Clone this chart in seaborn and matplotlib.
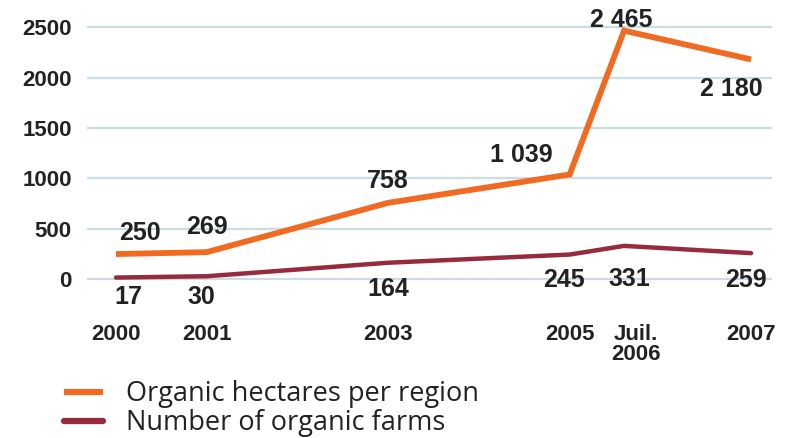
import numpy as np
import pandas as pd
import matplotlib
matplotlib.use('Agg')
import matplotlib.pyplot as plt
import matplotlib.transforms as mtransforms
import seaborn as sns

# periods on the x axis (Juil. 2006 sits where the source chart puts it)
aPeriod_label = ['2000', '2001', '2003', '2005', 'Juil.\n2006', '2007']
aPeriod_pos = [2000, 2001, 2003, 2005, 2005.6, 2007]

aHectares = [250, 269, 758, 1039, 2465, 2180]
aHectares_text = ['250', '269', '758', '1 039', '2 465', '2 180']
aFarms = [17, 30, 164, 245, 331, 259]
aFarms_text = ['17', '30', '164', '245', '331', '259']

sLabel_hectares = 'Organic hectares per region'
sLabel_farms = 'Number of organic farms'

aYtick = [0, 500, 1000, 1500, 2000, 2500]

# label offsets (points) relative to each point
aOffset_hectares = [(17, 15), (0, 18), (0, 16), (-35, 14), (-2, 8), (-14, -21)]
aOffset_farms = [(9, -14), (-4, -15), (0, -19), (-4, -18), (4, -24), (-4, -19)]

col_orange = '#f06a22'
col_maroon = '#972a3c'

sns.set_style('white')
plt.rcParams['font.family'] = ['Liberation Sans', 'DejaVu Sans']

df = pd.DataFrame({
    'pos': aPeriod_pos * 2,
    'value': aHectares + aFarms,
    'series': [sLabel_hectares] * len(aHectares) + [sLabel_farms] * len(aFarms),
})

fig = plt.figure(figsize=(7.95, 4.38), dpi=100)
ax = fig.add_axes([0.1094, 0.2756, 0.8616, 0.7085])

sns.lineplot(data=df[df['series'] == sLabel_farms], x='pos', y='value',
             color=col_maroon, linewidth=3.2, ax=ax, label=sLabel_farms,
             solid_joinstyle='round', solid_capstyle='round', zorder=3)
sns.lineplot(data=df[df['series'] == sLabel_hectares], x='pos', y='value',
             color=col_orange, linewidth=4.2, ax=ax, label=sLabel_hectares,
             solid_joinstyle='miter', solid_capstyle='butt', zorder=4)

ax.set_xlim(1999.68, 2007.23)
ax.set_ylim(-377, 2700)
ax.set_yticks(aYtick)
ax.set_yticklabels([str(v) for v in aYtick])
ax.set_xticks(aPeriod_pos)
ax.set_xticklabels(aPeriod_label, linespacing=0.95, va='top')
ax.set_xlabel('')
ax.set_ylabel('')
for lab in ax.get_xticklabels() + ax.get_yticklabels():
    lab.set_fontweight('bold')
    lab.set_fontsize(16)
    lab.set_color('#222222')
ax.tick_params(axis='y', length=0, pad=11)
ax.tick_params(axis='x', length=0, pad=5)
# the "Juil. 2006" label sits a bit right of its point in the source
lab_juil = ax.get_xticklabels()[4]
lab_juil.set_transform(lab_juil.get_transform() +
                       mtransforms.ScaledTranslation(0.12, 0, fig.dpi_scale_trans))

ax.yaxis.grid(True, color='#cddbe3', linewidth=1.6)
ax.xaxis.grid(False)
ax.set_axisbelow(True)
sns.despine(ax=ax, left=True, bottom=True)

for i in range(len(aPeriod_pos)):
    ax.annotate(aHectares_text[i], (aPeriod_pos[i], aHectares[i]),
                xytext=aOffset_hectares[i], textcoords='offset points',
                ha='center', va='center', fontsize=18, fontweight='bold',
                color='#222222', annotation_clip=False)
    ax.annotate(aFarms_text[i], (aPeriod_pos[i], aFarms[i]),
                xytext=aOffset_farms[i], textcoords='offset points',
                ha='center', va='center', fontsize=18, fontweight='bold',
                color='#222222', annotation_clip=False)

h, l = ax.get_legend_handles_labels()
order = [l.index(sLabel_hectares), l.index(sLabel_farms)]
if ax.get_legend():
    ax.get_legend().remove()
leg = fig.legend([h[i] for i in order], [l[i] for i in order],
                 loc='upper left', bbox_to_anchor=(0.067, 0.157),
                 frameon=False, handlelength=1.45, handletextpad=0.85,
                 labelspacing=0.05, borderaxespad=0,
                 prop={'family': 'Open Sans', 'size': 19.5})
for t in leg.get_texts():
    t.set_color('#222222')
for ln in leg.get_lines():
    ln.set_linewidth(4.5)

fig.savefig('out.png', dpi=100)
